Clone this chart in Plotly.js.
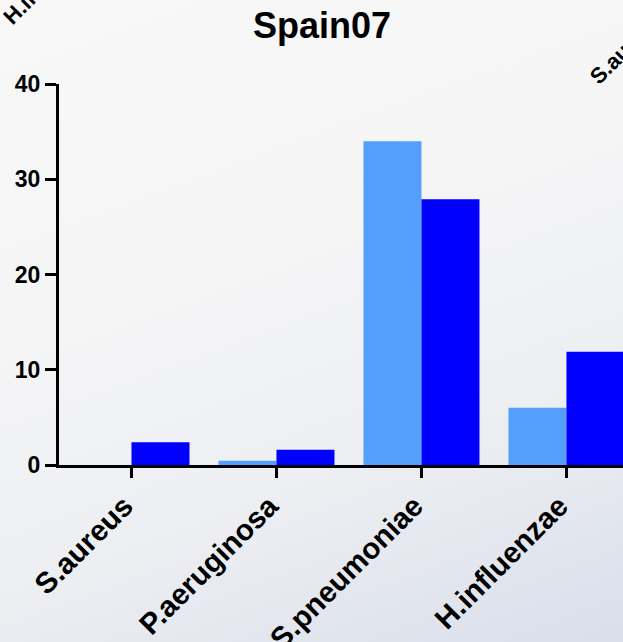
<!DOCTYPE html>
<html>
<head>
<meta charset="utf-8">
<script src="https://cdn.plot.ly/plotly-3.0.1.min.js"></script>
<style>
  html, body { margin: 0; padding: 0; width: 623px; height: 642px; overflow: hidden; }
  body { background: linear-gradient(160deg, #f8f8f8 0%, #f5f5f6 40%, #eceef2 70%, #d9deea 100%); }
  #chart { width: 623px; height: 642px; }
</style>
</head>
<body>
<div id="chart"></div>
<script>
const categories = ["S.aureus", "P.aeruginosa", "S.pneumoniae", "H.influenzae"];
const seriesLight = [0, 0.45, 34, 6];
const seriesDark = [2.4, 1.6, 27.9, 11.9];
const yTicks = [0, 10, 20, 30, 40];
const titleText = "Spain07";

const font = "Liberation Sans, Arial, sans-serif";

const traces = [
  { type: "bar", x: categories, y: seriesLight, marker: { color: "#559ffc" }, showlegend: false },
  { type: "bar", x: categories, y: seriesDark, marker: { color: "#0000fe" }, showlegend: false }
];

const layout = {
  width: 623, height: 642,
  margin: { l: 59, r: 0, t: 84, b: 177 },
  paper_bgcolor: "rgba(0,0,0,0)",
  plot_bgcolor: "rgba(0,0,0,0)",
  barmode: "group",
  bargap: 0.2,
  bargroupgap: 0,
  title: { text: "<b>" + titleText + "</b>", font: { family: font, size: 36, color: "#000" }, x: 0.517, xref: "container", xanchor: "center", y: 0.96, yref: "container", yanchor: "middle" },
  xaxis: {
    range: [-0.5, 3.39],
    showline: true, linecolor: "#000", linewidth: 3,
    ticks: "outside", ticklen: 10, tickwidth: 3, tickcolor: "#000",
    tickangle: -45,
    ticklabelstandoff: -1,
    ticklabelshift: -7,
    tickfont: { family: font, size: 29.5, color: "#000", weight: "bold" },
    showgrid: false, zeroline: false, fixedrange: true
  },
  yaxis: {
    range: [0, 40],
    tickvals: yTicks,
    showline: true, linecolor: "#000", linewidth: 3,
    ticks: "outside", ticklen: 11, tickwidth: 3, tickcolor: "#000",
    tickfont: { family: font, size: 23, color: "#000", weight: "bold" },
    showgrid: false, zeroline: false, fixedrange: true
  },
  annotations: [
    { text: "<b>H.influenzae</b>", xref: "paper", yref: "paper", x: -0.0106, y: 1.288,
      xanchor: "center", yanchor: "middle", textangle: -45, showarrow: false,
      font: { family: font, size: 22, color: "#000" } },
    { text: "<b>S.aureus</b>", xref: "paper", yref: "paper", x: 1.006, y: 1.096,
      xanchor: "center", yanchor: "middle", textangle: -45, showarrow: false,
      font: { family: font, size: 22, color: "#000" } }
  ]
};

Plotly.newPlot("chart", traces, layout, { displayModeBar: false, staticPlot: true });
</script>
</body>
</html>
